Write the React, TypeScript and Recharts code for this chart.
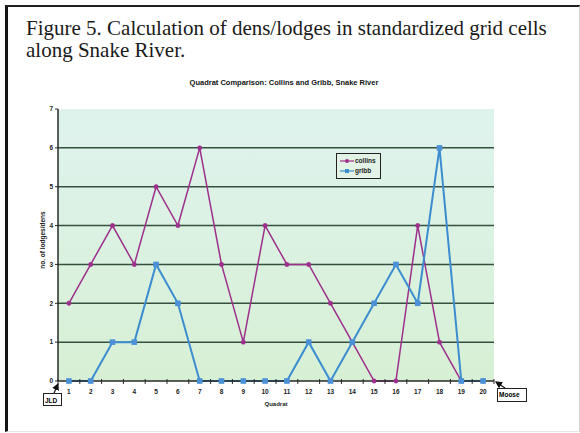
import React from 'react';
import { LineChart, Line, XAxis, YAxis, CartesianGrid, Legend, ReferenceLine } from 'recharts';

// values, quadrats 1..20
const quadrats = ['1', '2', '3', '4', '5', '6', '7', '8', '9', '10', '11', '12', '13', '14', '15', '16', '17', '18', '19', '20'];
const collins = [2, 3, 4, 3, 5, 4, 6, 3, 1, 4, 3, 3, 2, 1, 0, 0, 4, 1, 0, 0];
const gribb = [0, 0, 1, 1, 3, 2, 0, 0, 0, 0, 0, 1, 0, 1, 2, 3, 2, 6, 0, 0];
const yTicks = [0, 1, 2, 3, 4, 5, 6, 7];
const gridValues = [1, 2, 3, 4, 5, 6];

const data = quadrats.map((q, i) => ({ quadrant: q, collins: collins[i], gribb: gribb[i] }));

const COLORS = {
  collins: '#9e2f8c',
  gribb: '#3b8dcf',
  gribbDot: '#4a91d8',
  grid: '#34503f',
  axis: '#2a2a2a',
};

const SANS = 'Arial, "Liberation Sans", sans-serif';

const QuadratTick = (props: any) => {
  const { x, y, payload, index, width, visibleTicksCount } = props;
  const half = width / visibleTicksCount / 2;
  const axisY = y - 5;
  return (
    <g>
      <line x1={x - half} x2={x - half} y1={axisY - 2} y2={axisY + 3} stroke={COLORS.axis} strokeWidth={1} />
      {index === visibleTicksCount - 1 && (
        <line x1={x + half} x2={x + half} y1={axisY - 2} y2={axisY + 3} stroke={COLORS.axis} strokeWidth={1} />
      )}
      <text x={x} y={y + 8} textAnchor="middle" fontSize={6.5} fontWeight="bold" fill="#222" fontFamily={SANS}>
        {payload.value}
      </text>
    </g>
  );
};

const SquareDot = (props: any) => {
  const { cx, cy, index } = props;
  return <rect key={`sq-${index}`} x={cx - 2.8} y={cy - 2.8} width={5.6} height={5.6} fill={COLORS.gribbDot} />;
};

const LegendBox = () => (
  <div
    style={{
      border: '1.5px solid #222',
      background: '#e2f3e6',
      padding: '2px 4px 2px 3px',
      fontFamily: SANS,
      fontSize: 6.5,
      fontWeight: 'bold',
      color: '#222',
      lineHeight: '10px',
    }}
  >
    {[
      { name: 'collins', color: COLORS.collins, square: false },
      { name: 'gribb', color: COLORS.gribb, square: true },
    ].map((it) => (
      <div key={it.name} style={{ display: 'flex', alignItems: 'center' }}>
        <svg width={14} height={8} style={{ marginRight: 1 }}>
          <line x1={0} x2={14} y1={4} y2={4} stroke={it.color} strokeWidth={1.2} />
          {it.square ? (
            <rect x={5} y={2} width={4} height={4} fill={it.color} />
          ) : (
            <circle cx={7} cy={4} r={2} fill={it.color} />
          )}
        </svg>
        {it.name}
      </div>
    ))}
  </div>
);

export default function App() {
  return (
    <div style={{ position: 'absolute', left: 0, top: 0, width: 580, height: 433, background: '#fff', overflow: 'hidden' }}>
      {/* page frame */}
      <div
        style={{
          position: 'absolute',
          left: 5,
          top: 5,
          width: 571,
          height: 424,
          borderLeft: '3px solid #151515',
          borderTop: '2px solid #202020',
          borderRight: '1px solid #d8d8d8',
          borderBottom: '1px solid #e8e8e8',
        }}
      />

      {/* figure caption */}
      <div
        style={{
          position: 'absolute',
          left: 26,
          top: 17,
          fontFamily: '"Liberation Serif", "Times New Roman", serif',
          fontSize: 21,
          lineHeight: '22px',
          color: '#1a1a1a',
          whiteSpace: 'nowrap',
        }}
      >
        Figure 5. Calculation of dens/lodges in standardized grid cells
        <br />
        along Snake River.
      </div>

      {/* chart title */}
      <div
        style={{
          position: 'absolute',
          left: 0,
          width: 568,
          top: 78,
          textAlign: 'center',
          fontFamily: SANS,
          fontSize: 7.5,
          fontWeight: 'bold',
          color: '#111',
          whiteSpace: 'nowrap',
        }}
      >
        Quadrat Comparison: Collins and Gribb, Snake River
      </div>

      <div style={{ position: 'absolute', left: 0, top: 0 }}>
        <LineChart width={580} height={433} data={data} margin={{ top: 109, right: 86, bottom: 24, left: 38 }}>
          <defs>
            <linearGradient id="plotBg" x1="0" y1="0" x2="0" y2="1">
              <stop offset="0%" stopColor="#dff3ee" />
              <stop offset="100%" stopColor="#d7f0d4" />
            </linearGradient>
          </defs>
          <CartesianGrid horizontal={false} vertical={false} fill="url(#plotBg)" />
          {gridValues.map((v) => (
            <ReferenceLine key={v} y={v} stroke={COLORS.grid} strokeWidth={1.5} ifOverflow="visible" />
          ))}
          <XAxis
            dataKey="quadrant"
            scale="band"
            height={28}
            tickLine={false}
            tickSize={3}
            tickMargin={2}
            interval={0}
            axisLine={{ stroke: COLORS.axis, strokeWidth: 1.5 }}
            tick={<QuadratTick />}
            label={{
              value: 'Quadrat',
              position: 'insideBottom',
              offset: 3,
              style: { fontFamily: SANS, fontSize: 6, fontWeight: 'bold', fill: '#222' },
            }}
          />
          <YAxis
            width={20}
            domain={[0, 7]}
            ticks={yTicks}
            interval={0}
            tickSize={3}
            tickMargin={2}
            tickLine={{ stroke: COLORS.axis }}
            axisLine={{ stroke: COLORS.axis, strokeWidth: 1.5 }}
            tick={{ fontFamily: SANS, fontSize: 6.5, fontWeight: 'bold', fill: '#222' }}
            label={{
              value: 'no. of lodges/dens',
              angle: -90,
              position: 'insideLeft',
              offset: 5,
              dy: -5,
              style: { textAnchor: 'middle', fontFamily: SANS, fontSize: 6.5, fontWeight: 'bold', fill: '#222' },
            }}
          />
          <Legend
            layout="vertical"
            align="center"
            verticalAlign="middle"
            wrapperStyle={{ left: 336, top: 153, width: 'auto' }}
            content={() => <LegendBox />}
          />
          <Line
            dataKey="collins"
            stroke={COLORS.collins}
            strokeWidth={1.5}
            dot={{ r: 2.2, fill: COLORS.collins, stroke: COLORS.collins, strokeWidth: 0.5 }}
            isAnimationActive={false}
          />
          <Line
            dataKey="gribb"
            stroke={COLORS.gribb}
            strokeWidth={2}
            dot={<SquareDot />}
            isAnimationActive={false}
          />
        </LineChart>
      </div>

      {/* end-of-river annotations */}
      <div
        style={{
          position: 'absolute',
          left: 43,
          top: 393,
          width: 19,
          height: 13,
          border: '1px solid #222',
          background: '#fff',
          fontFamily: SANS,
          fontSize: 6.5,
          fontWeight: 'bold',
          lineHeight: '13px',
          paddingLeft: 1,
          boxSizing: 'border-box',
        }}
      >
        JLD
      </div>
      <div
        style={{
          position: 'absolute',
          left: 497,
          top: 388,
          width: 30,
          height: 14,
          border: '1px solid #222',
          background: '#fff',
          fontFamily: SANS,
          fontSize: 6.5,
          fontWeight: 'bold',
          lineHeight: '12px',
          paddingLeft: 1,
          boxSizing: 'border-box',
        }}
      >
        Moose
      </div>
      <svg width={580} height={433} style={{ position: 'absolute', left: 0, top: 0, pointerEvents: 'none' }}>
        <defs>
          <marker id="ah" markerWidth="6" markerHeight="6" refX="5" refY="3" orient="auto">
            <path d="M0,0 L6,3 L0,6 Z" fill="#111" />
          </marker>
        </defs>
        <line x1={54} y1={393} x2={58} y2={384} stroke="#111" strokeWidth={1.2} markerEnd="url(#ah)" />
        <line x1={505} y1={388} x2={496} y2={382} stroke="#111" strokeWidth={1.2} markerEnd="url(#ah)" />
      </svg>
    </div>
  );
}
